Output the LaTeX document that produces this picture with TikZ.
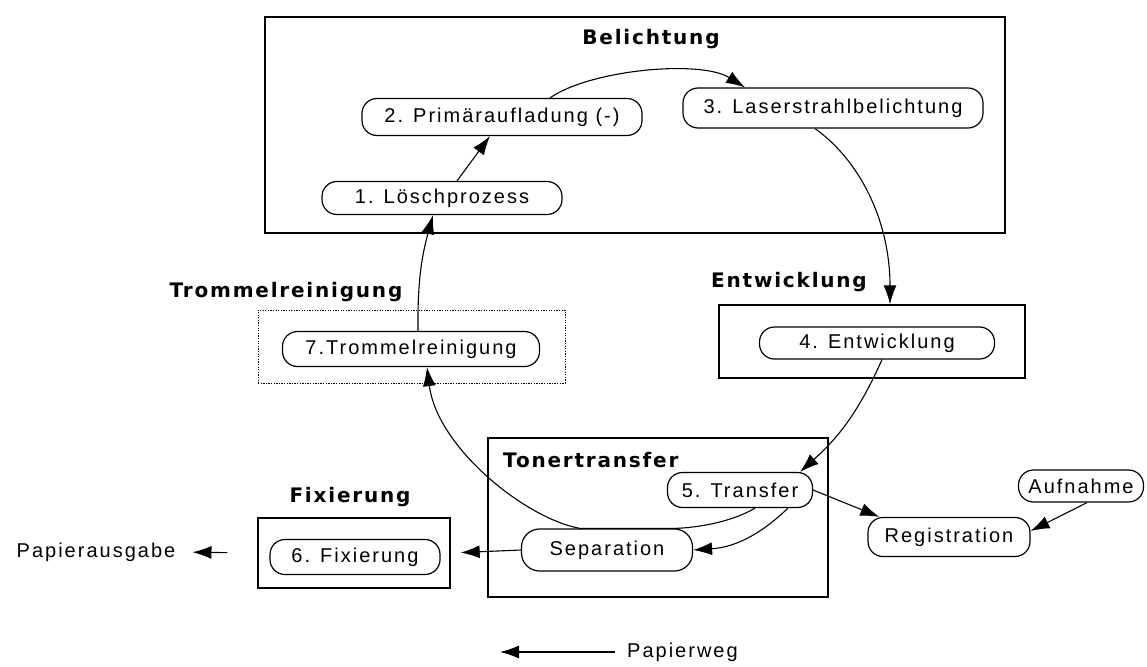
\documentclass[tikz,border=0pt]{standalone}
\usepackage{fontspec}
\setmainfont{Liberation Sans}[LetterSpace=10]
\newfontfamily\titlefont{DejaVu Sans}[LetterSpace=9,BoldFont={DejaVu Sans Bold}]
\usetikzlibrary{arrows.meta}
\tikzset{
  proc/.style={draw, line width=1.2pt, rounded corners=15pt, inner sep=0pt, font=\fontsize{20}{24}\selectfont},
  frame/.style={draw, line width=1.4pt, inner sep=0pt},
  ttl/.style={font=\titlefont\bfseries\fontsize{20}{24}\selectfont, inner sep=0pt},
  plain/.style={font=\fontsize{20}{24}\selectfont, inner sep=2pt},
  arr/.style={line width=1.1pt, -{Latex[length=19pt,width=13pt]}},
}
\begin{document}
\begin{tikzpicture}[x=1pt,y=1pt]
\useasboundingbox (0,0) rectangle (1147,-666);
% Belichtung
\node[frame, minimum width=740pt, minimum height=216pt] (fB) at (635,-125) {};
\node[ttl] (tB) at (651,-39) {Belichtung};
\node[proc, minimum width=280pt, minimum height=37pt] (n2) at (502,-117) {2. Primäraufladung (-)};
\node[proc, minimum width=300pt, minimum height=40pt] (n3) at (833,-108) {3. Laserstrahlbelichtung};
\node[proc, minimum width=240pt, minimum height=33pt] (n1) at (442,-198) {1. Löschprozess};
% Entwicklung
\node[ttl] (tE) at (789,-282) {Entwicklung};
\node[frame, minimum width=306pt, minimum height=73pt] (fE) at (872,-341.5) {};
\node[proc, minimum width=235pt, minimum height=32pt] (n4) at (877,-343) {4. Entwicklung};
% Trommelreinigung
\node[ttl] (tT) at (286,-292) {Trommelreinigung};
\node[draw, line width=1pt, dash pattern=on 1.3pt off 1.3pt, inner sep=0pt, minimum width=307pt, minimum height=73pt] (fT) at (411.5,-346.5) {};
\node[proc, minimum width=257pt, minimum height=35pt] (n7) at (411,-349) {7.Trommelreinigung};
% Tonertransfer
\node[frame, minimum width=340pt, minimum height=159pt] (fTT) at (658,-517.5) {};
\node[ttl, anchor=west] (tTT) at (503,-460) {Tonertransfer};
\node[proc, minimum width=145pt, minimum height=35pt] (n5) at (740,-490) {5. Transfer};
\node[proc, minimum width=171pt, minimum height=42pt, rounded corners=18pt] (sep) at (607,-550) {Separation};
% Registration / Aufnahme
\node[proc, minimum width=162pt, minimum height=39pt] (reg) at (949,-537) {Registration};
\node[proc, minimum width=125pt, minimum height=32pt] (auf) at (1081,-486) {Aufnahme};
% Fixierung
\node[ttl] (tF) at (350,-497) {Fixierung};
\node[frame, minimum width=192pt, minimum height=70pt] (fF) at (354,-553) {};
\node[proc, minimum width=170pt, minimum height=35pt] (n6) at (355,-557) {6. Fixierung};
\node[plain] (pa) at (96,-552) {Papierausgabe};
% legend
\node[plain, inner sep=0pt, anchor=west] (pw) at (627,-652) {Papierweg};
\coordinate (pwtip) at (500,-652);
% connectors
\draw[arr] ([xshift=15pt]n1.north) -- ([xshift=-12pt]n2.south);
\draw[arr] ([xshift=48pt]n2.north) .. controls +(40,28) and +(-45,28) .. ([xshift=-88pt]n3.north);
\draw[arr] ([xshift=-18pt]n3.south) .. controls +(45,-32) and +(0,83) .. ([xshift=18pt]fE.north);
\draw[arr] ([xshift=5pt]n4.south) to[bend left=12] ([xshift=60pt]n5.north);
\draw[arr] ([xshift=15pt]n5.south) .. controls +(-25,-15) and +(20,0) .. ([xshift=65pt]sep.north) -- ([xshift=-27pt]sep.north) .. controls +(-55,10) and +(10,-80) .. ([xshift=16pt]n7.south);
\draw[arr] ([xshift=48pt]n5.south) to[bend left=20] (sep.east);
\draw[arr] (n5.east) -- ([xshift=12pt]reg.north west);
\draw[arr] ([xshift=6pt]auf.south) -- ([yshift=6pt]reg.east);
\draw[arr] ([xshift=7pt]n7.north) to[bend left=8] ([xshift=-9pt]n1.south);
\draw[arr, shorten >=10pt] (sep.west) -- (fF.east);
\draw[arr, shorten <=30pt, shorten >=15pt] (fF.west) -- (pa.east);
\draw[arr] ([xshift=-12pt]pw.west) -- (pwtip);
\end{tikzpicture}
\end{document}
